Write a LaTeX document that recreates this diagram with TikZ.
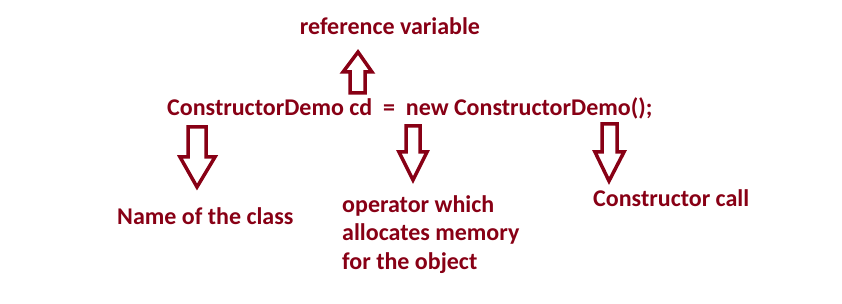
\documentclass[tikz,border=0pt]{standalone}
\usepackage{fontspec}
\setmainfont{Carlito}
\usepackage{tikz}
\usetikzlibrary{positioning}
\usepackage{xcolor}
\definecolor{maroon}{HTML}{880015}

\tikzset{
  label/.style={text=maroon, font=\bfseries\fontsize{24}{28.5}\selectfont, inner sep=0pt},
  blockarrow/.style={draw=maroon, line width=3.5pt, fill=white, line join=miter}
}

\begin{document}
\begin{tikzpicture}[x=1pt, y=-1pt]
    \useasboundingbox (0,0) rectangle (842,304);
    % code line
    \node[label, anchor=west] (code) at (167,108) {ConstructorDemo cd\ \ =\ \ new ConstructorDemo();};
    \node[label] (refvar) at (390,26) {reference variable};
    \node[label, anchor=west] (classname) at (117,216) {Name of the class};
    \node[label, anchor=north west, align=left] (newop) at (342,195) {operator which\\allocates memory\\for the object};
    \node[label, anchor=west] (ctorcall) at (593,198) {Constructor call};
    % block arrows
    \draw[blockarrow] (350,93) -- (365,93) -- (365,72) -- (372,72) -- (358,52) -- (343,72) -- (350,72) -- cycle;
    \draw[blockarrow] (188,127) -- (206,127) -- (206,157) -- (215,157) -- (197,187) -- (180,157) -- (188,157) -- cycle;
    \draw[blockarrow] (406,126) -- (420,126) -- (420,152) -- (427,152) -- (413,180) -- (399,152) -- (406,152) -- cycle;
    \draw[blockarrow] (602,124) -- (617,124) -- (617,152) -- (624,152) -- (609,181) -- (595,152) -- (602,152) -- cycle;
  \end{tikzpicture}
\end{document}
